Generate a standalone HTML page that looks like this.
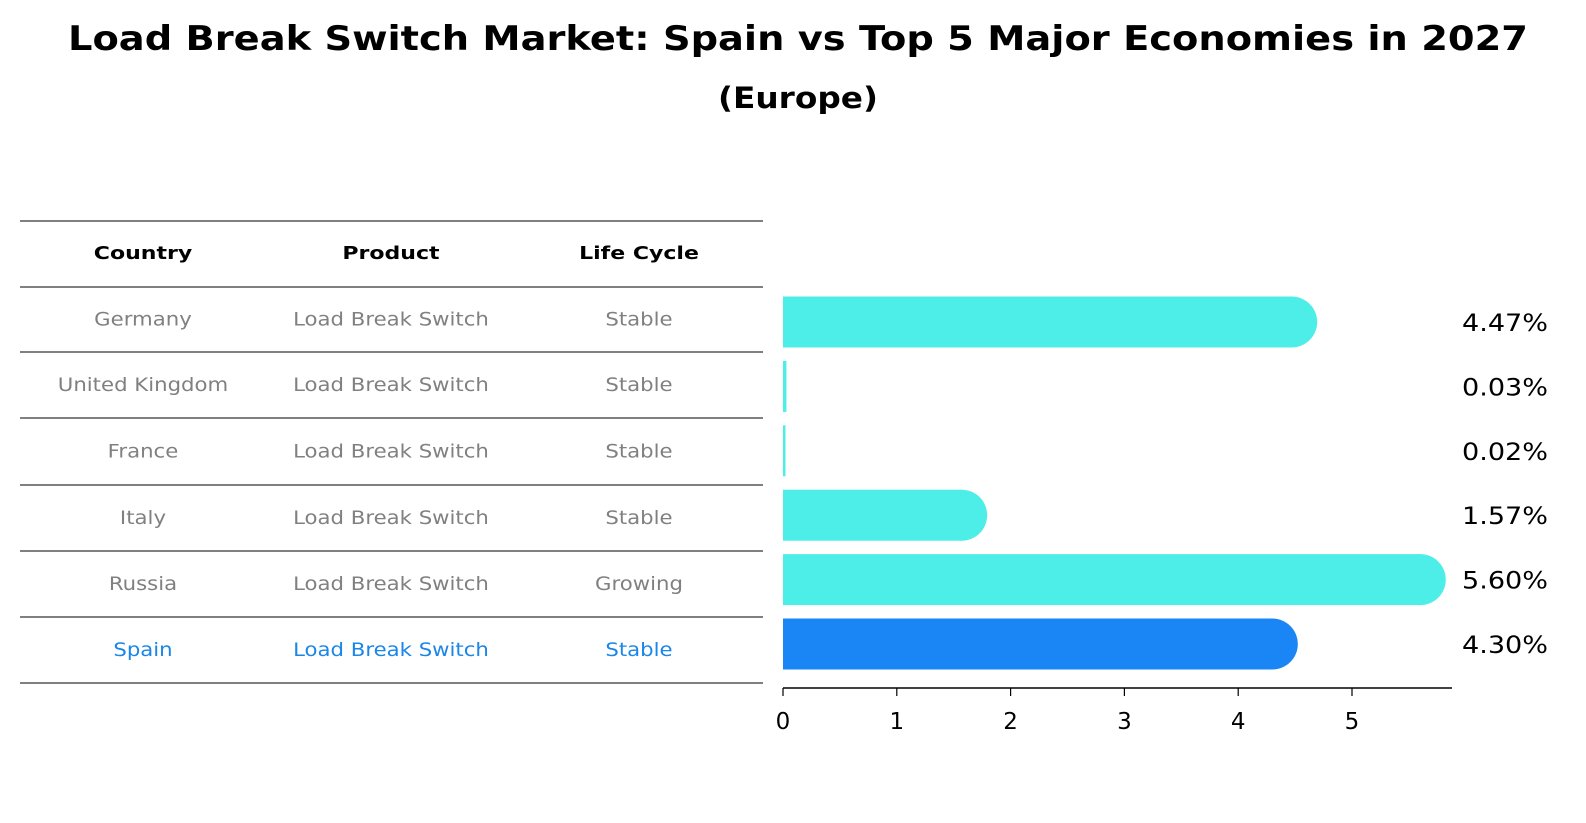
<!DOCTYPE html>
<html><head><meta charset="utf-8"><style>html,body{margin:0;padding:0;background:#fff;overflow:hidden;width:1586px;height:823px}svg{display:block;font-family:"DejaVu Sans","Liberation Sans",sans-serif}</style></head>
<body>
<svg id="chart" width="1586" height="823" viewBox="0 0 1586 823" xmlns="http://www.w3.org/2000/svg">
<text x="798" y="50" text-anchor="middle" font-size="34" font-weight="bold" textLength="1460" lengthAdjust="spacingAndGlyphs">Load Break Switch Market: Spain vs Top 5 Major Economies in 2027</text>
<text x="798" y="108" text-anchor="middle" font-size="29" font-weight="bold" textLength="160" lengthAdjust="spacingAndGlyphs">(Europe)</text>
<g id="table"></g>
<g id="bars"></g>
<g id="axis"></g>
</svg>
<script>
const countries = ["Germany","United Kingdom","France","Italy","Russia","Spain"];
const products = ["Load Break Switch","Load Break Switch","Load Break Switch","Load Break Switch","Load Break Switch","Load Break Switch"];
const lifeCycles = ["Stable","Stable","Stable","Stable","Growing","Stable"];
const values = [4.47,0.03,0.02,1.57,5.60,4.30];
const valueLabels = ["4.47%","0.03%","0.02%","1.57%","5.60%","4.30%"];
const ticks = [0,1,2,3,4,5];

const NS="http://www.w3.org/2000/svg";
function mk(tag,attrs,parent,text){const e=document.createElementNS(NS,tag);for(const k in attrs)e.setAttribute(k,attrs[k]);if(text!==undefined)e.textContent=text;parent.appendChild(e);return e;}
const x0=783, pxPerUnit=113.8;
const xs=v=>x0+v*pxPerUnit;
const rowY=i=>322+i*64.4;
const barH=51;
const widthFactor=1.33;

const table=document.getElementById('table');
const lineYs=[221,287,352,418,485,551,617,683];
lineYs.forEach(y=>{const l=mk('line',{x1:20,x2:763,y1:y,y2:y,stroke:'#000','stroke-width':1},table);

});
const colX=[143,391,639];
["Country","Product","Life Cycle"].forEach((h,j)=>{const t=mk('text',{x:colX[j],y:259,'text-anchor':'middle','font-size':18,'font-weight':'bold'},table,h);


const w=t.getComputedTextLength();t.setAttribute('textLength',(w*widthFactor*0.92).toFixed(1));t.setAttribute('lengthAdjust','spacingAndGlyphs');});
countries.forEach((c,i)=>{
 const y=(lineYs[i+1]+lineYs[i+2])/2+6;
 const col=(c==="Spain")?'#1a86e8':'#808080';
 [c,products[i],lifeCycles[i]].forEach((v,j)=>{const t=mk('text',{x:colX[j],y:y,'text-anchor':'middle','font-size':19,fill:col},table,v);
 
 
 const w=t.getComputedTextLength();t.setAttribute('textLength',(w*widthFactor*0.84).toFixed(1));t.setAttribute('lengthAdjust','spacingAndGlyphs');});
});

const bars=document.getElementById('bars');
values.forEach((v,i)=>{
 const col=(countries[i]==="Spain")?'#1a86f5':'#4deee8';
 const yc=rowY(i), r=barH/2;
 const g=mk('g',{},bars);
 
 
 const w=Math.max(xs(v)-x0,2.5);
 mk('rect',{x:x0,y:yc-r,width:w,height:barH,fill:col},g);
 if(v>0.5) mk('circle',{cx:xs(v),cy:yc,r:r,fill:col},g);
 const t=mk('text',{x:1462,y:yc+9,'font-size':24,textLength:86,lengthAdjust:'spacingAndGlyphs'},bars,valueLabels[i]);
 
 
});

const axis=document.getElementById('axis');
mk('line',{x1:x0,x2:1452,y1:688,y2:688,stroke:'#000','stroke-width':1.5},axis);
ticks.forEach(tk=>{
 mk('line',{x1:xs(tk),x2:xs(tk),y1:688,y2:696,stroke:'#000','stroke-width':1.2},axis);
 const t=mk('text',{x:xs(tk),y:729,'text-anchor':'middle','font-size':23},axis,String(tk));
 
 
});
</script>
</body></html>
